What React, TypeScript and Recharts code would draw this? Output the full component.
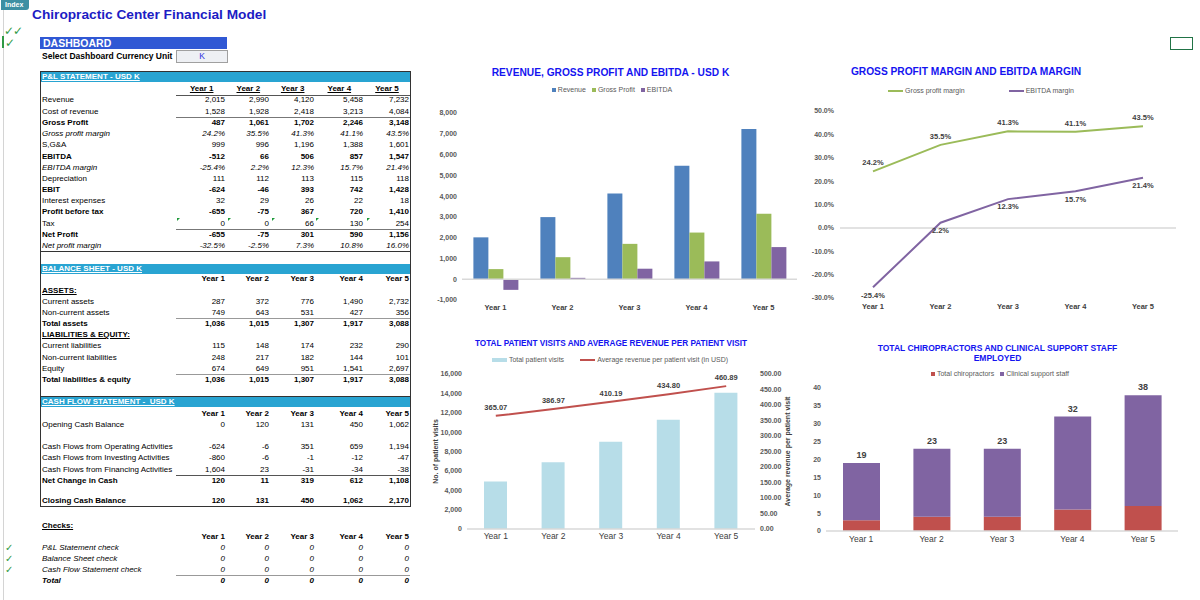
import React from 'react';
import {
  BarChart, Bar, LineChart, Line, ComposedChart, XAxis, YAxis,
  ReferenceLine, Legend, LabelList,
} from 'recharts';

const FONT = '"Liberation Sans", Arial, sans-serif';

// ---- data ----
const years = ['Year 1', 'Year 2', 'Year 3', 'Year 4', 'Year 5'];

// P&L (USD K)
const revenue = [2015, 2990, 4120, 5458, 7232];
const costOfRevenue = [1528, 1928, 2418, 3213, 4084];
const grossProfit = [487, 1061, 1702, 2246, 3148];
const grossMargin = [24.2, 35.5, 41.3, 41.1, 43.5];
const sga = [999, 996, 1196, 1388, 1601];
const ebitda = [-512, 66, 506, 857, 1547];
const ebitdaMargin = [-25.4, 2.2, 12.3, 15.7, 21.4];
const depreciation = [111, 112, 113, 115, 118];
const ebit = [-624, -46, 393, 742, 1428];
const interest = [32, 29, 26, 22, 18];
const profitBeforeTax = [-655, -75, 367, 720, 1410];
const tax = [0, 0, 66, 130, 254];
const netProfit = [-655, -75, 301, 590, 1156];
const netMargin = [-32.5, -2.5, 7.3, 10.8, 16.0];

// balance sheet
const currentAssets = [287, 372, 776, 1490, 2732];
const nonCurrentAssets = [749, 643, 531, 427, 356];
const totalAssets = [1036, 1015, 1307, 1917, 3088];
const currentLiabilities = [115, 148, 174, 232, 290];
const nonCurrentLiabilities = [248, 217, 182, 144, 101];
const equity = [674, 649, 951, 1541, 2697];
const totalLiabEquity = [1036, 1015, 1307, 1917, 3088];

// cash flow
const openingCash = [0, 120, 131, 450, 1062];
const cfOperating = [-624, -6, 351, 659, 1194];
const cfInvesting = [-860, -6, -1, -12, -47];
const cfFinancing = [1604, 23, -31, -34, -38];
const netChangeCash = [120, 11, 319, 612, 1108];
const closingCash = [120, 131, 450, 1062, 2170];

const checkZeros = [0, 0, 0, 0, 0];

// operating charts
const patientVisits = [4900, 6900, 9000, 11280, 14070];
const avgRevPerVisit = [365.07, 386.97, 410.19, 434.8, 460.89];
const chiropractors = [3, 4, 4, 6, 7];
const supportStaff = [16, 19, 19, 26, 31];
const staffTotals = [19, 23, 23, 32, 38];

const revData = years.map((y, i) => ({ year: y, revenue: revenue[i], gp: grossProfit[i], ebitda: ebitda[i] }));
const marginData = years.map((y, i) => ({ year: y, gpm: grossMargin[i], ebm: ebitdaMargin[i] }));
const visitData = years.map((y, i) => ({ year: y, visits: patientVisits[i], arpv: avgRevPerVisit[i] }));
const staffData = years.map((y, i) => ({ year: y, chiro: chiropractors[i], support: supportStaff[i], total: staffTotals[i] }));

// ---- table helpers ----
const COL_RIGHT = [225, 269, 314, 363, 409];
const PL_HEAD_X = [201.7, 248.3, 292.7, 339.3, 387];
const fmt = (v: number) => v.toLocaleString('en-US');
const pct = (v: number) => v.toFixed(1) + '%';

const base: React.CSSProperties = {
  position: 'absolute', fontFamily: FONT, fontSize: 8, lineHeight: '10px', color: '#000', whiteSpace: 'pre',
};

function TRow({ y, label, vals, bold = false, italic = false, format = fmt }: {
  y: number; label: string; vals: number[]; bold?: boolean; italic?: boolean; format?: (v: number) => string;
}) {
  const st: React.CSSProperties = { ...base, top: y - 5, fontWeight: bold ? 700 : 400, fontStyle: italic ? 'italic' : 'normal' };
  return (
    <>
      <div style={{ ...st, left: 42 }}>{label}</div>
      {vals.map((v, i) => (
        <div key={i} style={{ ...st, left: COL_RIGHT[i] - 50, width: 50, textAlign: 'right' }}>{format(v)}</div>
      ))}
    </>
  );
}

function YearHead({ y }: { y: number }) {
  return (
    <>
      {years.map((t, i) => (
        <div key={t} style={{ ...base, top: y - 5, left: COL_RIGHT[i] - 50, width: 50, textAlign: 'right', fontWeight: 700 }}>{t}</div>
      ))}
    </>
  );
}

function Label({ y, text, bold = true, underline = false }: { y: number; text: string; bold?: boolean; underline?: boolean }) {
  return <div style={{ ...base, top: y - 5, left: 42, fontWeight: bold ? 700 : 400, textDecoration: underline ? 'underline' : 'none' }}>{text}</div>;
}

function SectionBar({ y, text }: { y: number; text: string }) {
  return (
    <div style={{ position: 'absolute', left: 41, top: y, width: 369, height: 10, background: '#29a4d2' }}>
      <span style={{ ...base, left: 1, top: 0, color: '#fff', fontWeight: 700, textDecoration: 'underline' }}>{text}</span>
    </div>
  );
}

function HLine({ y, x1 = 176, x2 = 410, w = 1.5, color = '#888' }: { y: number; x1?: number; x2?: number; w?: number; color?: string }) {
  return <div style={{ position: 'absolute', left: x1, top: y, width: x2 - x1, height: 0, borderTop: `${w}px solid ${color}` }} />;
}

function Tick({ x, y, size = 12 }: { x: number; y: number; size?: number }) {
  return <div style={{ position: 'absolute', left: x, top: y, fontFamily: '"DejaVu Sans", sans-serif', fontSize: size, lineHeight: '10px', color: '#2f9a45' }}>✓</div>;
}

function Flag({ x, y }: { x: number; y: number }) {
  return <div style={{ position: 'absolute', left: x, top: y, width: 0, height: 0, borderTop: '3px solid #1e9a3a', borderRight: '3px solid transparent' }} />;
}

// ---- chart helpers ----
type LegendItem = { label: string; color: string; kind: 'square' | 'line' | 'rect' };

const legendContent = (items: LegendItem[], gap: number) => () => (
  <div style={{ display: 'flex', justifyContent: 'center', alignItems: 'center', gap, fontFamily: FONT, fontSize: 7, color: '#595959', whiteSpace: 'nowrap' }}>
    {items.map((it) => (
      <span key={it.label} style={{ display: 'flex', alignItems: 'center' }}>
        <span style={{
          display: 'inline-block', marginRight: 2, background: it.color,
          width: it.kind === 'square' ? 4 : 15, height: it.kind === 'line' ? 2 : 4,
        }} />
        {it.label}
      </span>
    ))}
  </div>
);

const yTick = { fontSize: 7, fill: '#595959', fontFamily: FONT, fontWeight: 700 };
const xTick = { fontSize: 7.5, fill: '#404040', fontFamily: FONT, fontWeight: 700 };

function Title({ x, y, text, size }: { x: number; y: number; text: string; size: number }) {
  return (
    <div style={{
      position: 'absolute', left: x - 200, width: 400, top: y - size * 0.6, textAlign: 'center', whiteSpace: 'pre-line',
      fontFamily: FONT, fontWeight: 700, fontSize: size, lineHeight: `${size * 1.2}px`, color: '#1414f0',
    }}>{text}</div>
  );
}

export default function App() {
  return (
    <div style={{ position: 'absolute', left: 0, top: 0, width: 1200, height: 600, background: '#fff', overflow: 'hidden', fontFamily: FONT }}>
      {/* sheet chrome */}
      <div style={{ position: 'absolute', left: 3, top: 10, width: 0, height: 590, borderLeft: '1px solid #d4d4d4' }} />
      <div style={{ position: 'absolute', left: 1, top: 0, width: 28, height: 10, background: '#3d8fa3', borderRadius: '0 0 3px 0' }}>
        <span style={{ ...base, left: 4, top: 0, fontSize: 7, color: '#fff', fontWeight: 700 }}>Index</span>
      </div>
      <Tick x={4} y={26} />
      <Tick x={13} y={26} />
      <div style={{ position: 'absolute', left: 2, top: 36, width: 1.5, height: 12, background: '#2f9a45' }} />
      <Tick x={5} y={38} />
      <div style={{ position: 'absolute', left: 1170, top: 37, width: 21, height: 11, border: '1.5px solid #217346' }} />

      <div style={{ position: 'absolute', left: 32, top: 7, fontFamily: FONT, fontSize: 13.7, fontWeight: 700, color: '#1c1cc4', whiteSpace: 'nowrap' }}>
        Chiropractic Center Financial Model
      </div>

      <div style={{ position: 'absolute', left: 40, top: 37, width: 187, height: 12, background: '#3058d4' }}>
        <span style={{ ...base, left: 3, top: 0, fontSize: 10.5, lineHeight: '12px', color: '#fff', fontWeight: 700 }}>DASHBOARD</span>
      </div>
      <div style={{ ...base, left: 42, top: 51, fontSize: 8.5, fontWeight: 700 }}>Select Dashboard Currency Unit</div>
      <div style={{ position: 'absolute', left: 176, top: 49.5, width: 50, height: 11, border: '1px solid #a0a0a0', background: '#eef0f4', textAlign: 'center', fontFamily: FONT, fontSize: 8.5, lineHeight: '11px', color: '#3030e0' }}>K</div>

      {/* statements box */}
      <div style={{ position: 'absolute', left: 40, top: 71, width: 369, height: 434, border: '1.5px solid #333' }} />
      <HLine y={251} x1={40} x2={411} color="#333" />
      <HLine y={395.5} x1={40} x2={411} color="#333" />

      <SectionBar y={72} text="P&L STATEMENT - USD K" />
      {years.map((t, i) => (
        <div key={t} style={{ ...base, top: 83.5, left: PL_HEAD_X[i] - 25, width: 50, textAlign: 'center', fontWeight: 700, textDecoration: 'underline' }}>{t}</div>
      ))}
      <HLine y={94.5} w={1} color="#555" />
      <TRow y={100} label="Revenue" vals={revenue} />
      <TRow y={111.5} label="Cost of revenue" vals={costOfRevenue} />
      <HLine y={116.5} color="#777" />
      <TRow y={122.7} label="Gross Profit" vals={grossProfit} bold />
      <TRow y={134} label="Gross profit margin" vals={grossMargin} italic format={pct} />
      <TRow y={145.3} label="S,G&A" vals={sga} />
      <TRow y={156.6} label="EBITDA" vals={ebitda} bold />
      <TRow y={167.8} label="EBITDA margin" vals={ebitdaMargin} italic format={pct} />
      <TRow y={179} label="Depreciation" vals={depreciation} />
      <TRow y={190} label="EBIT" vals={ebit} bold />
      <TRow y={201.2} label="Interest expenses" vals={interest} />
      <TRow y={212.3} label="Profit before tax" vals={profitBeforeTax} bold />
      <TRow y={223.5} label="Tax" vals={tax} />
      {[177, 228, 272, 316, 367].map((x) => <Flag key={x} x={x} y={217.5} />)}
      <HLine y={228.7} color="#777" />
      <TRow y={234.7} label="Net Profit" vals={netProfit} bold />
      <TRow y={245.8} label="Net profit margin" vals={netMargin} italic format={pct} />

      <SectionBar y={263.5} text="BALANCE SHEET - USD K" />
      <YearHead y={279.3} />
      <Label y={290.7} text="ASSETS:" underline />
      <TRow y={301.7} label="Current assets" vals={currentAssets} />
      <TRow y={312.8} label="Non-current assets" vals={nonCurrentAssets} />
      <HLine y={317.7} color="#999" />
      <TRow y={324} label="Total assets" vals={totalAssets} bold />
      <Label y={335} text="LIABILITIES & EQUITY:" underline />
      <TRow y={346.3} label="Current liabilities" vals={currentLiabilities} />
      <TRow y={357.6} label="Non-current liabilities" vals={nonCurrentLiabilities} />
      <TRow y={368.8} label="Equity" vals={equity} />
      <HLine y={373.8} color="#999" />
      <TRow y={379.8} label="Total liabilities & equity" vals={totalLiabEquity} bold />

      <SectionBar y={397} text="CASH FLOW STATEMENT -  USD K" />
      <YearHead y={413.7} />
      <TRow y={424.8} label="Opening Cash Balance" vals={openingCash} />
      <TRow y={447.3} label="Cash Flows from Operating Activities" vals={cfOperating} />
      <TRow y={458.4} label="Cash Flows from Investing Activities" vals={cfInvesting} />
      <TRow y={469.5} label="Cash Flows from Financing Activities" vals={cfFinancing} />
      <HLine y={474.5} w={1} color="#555" />
      <TRow y={480.6} label="Net Change in Cash" vals={netChangeCash} bold />
      <TRow y={501.2} label="Closing Cash Balance" vals={closingCash} bold />

      <Label y={526} text="Checks:" underline />
      <YearHead y={536.8} />
      <TRow y={547.8} label="P&L Statement check" vals={checkZeros} italic />
      <TRow y={559} label="Balance Sheet check" vals={checkZeros} italic />
      <TRow y={570} label="Cash Flow Statement check" vals={checkZeros} italic />
      <HLine y={575} color="#999" />
      <TRow y={581.2} label="Total" vals={checkZeros} bold italic />
      <Tick x={5} y={543} size={10} />
      <Tick x={5} y={554} size={10} />
      <Tick x={5} y={565} size={10} />

      {/* chart 1: revenue, gross profit, EBITDA */}
      <Title x={610.5} y={73} text="REVENUE, GROSS PROFIT AND EBITDA - USD K" size={10.2} />
      <div style={{ position: 'absolute', left: 430, top: 60 }}>
        <BarChart width={380} height={260} data={revData} margin={{ top: 53, right: 13, bottom: 0, left: 0 }} barGap={0} barCategoryGap="17%">
          <XAxis dataKey="year" height={20} axisLine={false} tickLine={false} tickSize={0} tickMargin={5} tick={xTick} interval={0} />
          <YAxis width={32} domain={[-1000, 8000]} ticks={[-1000, 0, 1000, 2000, 3000, 4000, 5000, 6000, 7000, 8000]}
            tickFormatter={fmt} axisLine={false} tickLine={false} tickSize={0} tickMargin={5} tick={yTick} />
          <ReferenceLine y={0} stroke="#d9d9d9" strokeWidth={1.5} />
          <Legend verticalAlign="middle" align="center" wrapperStyle={{ left: 0, top: 26, width: 364 }}
            content={legendContent([
              { label: 'Revenue', color: '#4f81bd', kind: 'square' },
              { label: 'Gross Profit', color: '#9bbb59', kind: 'square' },
              { label: 'EBITDA', color: '#8064a2', kind: 'square' },
            ], 6)} />
          <Bar dataKey="revenue" fill="#4f81bd" isAnimationActive={false} />
          <Bar dataKey="gp" fill="#9bbb59" isAnimationActive={false} />
          <Bar dataKey="ebitda" fill="#8064a2" isAnimationActive={false} />
        </BarChart>
      </div>

      {/* chart 2: margins */}
      <Title x={966} y={72} text="GROSS PROFIT MARGIN AND EBITDA MARGIN" size={10.2} />
      <div style={{ position: 'absolute', left: 800, top: 60 }}>
        <LineChart width={400} height={260} data={marginData} margin={{ top: 51, right: 24, bottom: 0, left: 0 }}>
          <XAxis dataKey="year" height={22} axisLine={false} tickLine={false} tickSize={0} tickMargin={6} tick={xTick} interval={0}
            padding={{ left: 33, right: 33 }} />
          <YAxis width={40} domain={[-30, 50]} ticks={[-30, -20, -10, 0, 10, 20, 30, 40, 50]}
            tickFormatter={(v: number) => v.toFixed(1) + '%'} axisLine={false} tickLine={false} tickSize={0} tickMargin={6} tick={yTick} />
          <ReferenceLine y={0} stroke="#d9d9d9" strokeWidth={1.5} />
          <Legend verticalAlign="middle" align="center" wrapperStyle={{ left: 0, top: 27, width: 362 }}
            content={legendContent([
              { label: 'Gross profit margin', color: '#9bbb59', kind: 'line' },
              { label: 'EBITDA margin', color: '#8064a2', kind: 'line' },
            ], 44)} />
          <Line dataKey="gpm" stroke="#9bbb59" strokeWidth={2} dot={false} isAnimationActive={false}>
            <LabelList dataKey="gpm" position="top" offset={6} formatter={(v: number) => pct(v)}
              fill="#404040" fontSize={7.5} fontWeight={700} fontFamily={FONT} />
          </Line>
          <Line dataKey="ebm" stroke="#8064a2" strokeWidth={2} dot={false} isAnimationActive={false}>
            <LabelList dataKey="ebm" position="bottom" offset={5} formatter={(v: number) => pct(v)}
              fill="#404040" fontSize={7.5} fontWeight={700} fontFamily={FONT} />
          </Line>
        </LineChart>
      </div>

      {/* chart 3: patient visits */}
      <Title x={611} y={344} text="TOTAL PATIENT VISITS AND AVERAGE REVENUE PER PATIENT VISIT" size={8.2} />
      <div style={{ position: 'absolute', left: 425, top: 330 }}>
        <ComposedChart width={375} height={225} data={visitData} margin={{ top: 44, right: 0, bottom: 0, left: 0 }}>
          <XAxis dataKey="year" height={26} axisLine={false} tickLine={false} tickSize={0} tickMargin={4}
            tick={{ ...xTick, fontSize: 8.5, fontWeight: 400 }} interval={0} />
          <YAxis yAxisId="l" width={42} domain={[0, 16000]} ticks={[0, 2000, 4000, 6000, 8000, 10000, 12000, 14000, 16000]}
            tickFormatter={fmt} axisLine={false} tickLine={false} tickSize={0} tickMargin={5} tick={yTick}
            label={{ value: 'No. of  patient visits', angle: -90, position: 'insideLeft', offset: 11, style: { textAnchor: 'middle', fontSize: 7, fontWeight: 700, fill: '#404040', fontFamily: FONT } }} />
          <YAxis yAxisId="r" orientation="right" width={45} domain={[0, 500]} ticks={[0, 50, 100, 150, 200, 250, 300, 350, 400, 450, 500]}
            tickFormatter={(v: number) => v.toFixed(2)} axisLine={false} tickLine={false} tickSize={0} tickMargin={5} tick={yTick}
            label={{ value: 'Average  revenue per patient visit', angle: -90, position: 'insideRight', offset: 12, style: { textAnchor: 'middle', fontSize: 7, fontWeight: 700, fill: '#404040', fontFamily: FONT } }} />
          <ReferenceLine yAxisId="l" y={0} stroke="#d9d9d9" strokeWidth={1.5} />
          <Legend verticalAlign="middle" align="center" wrapperStyle={{ left: 60, top: 26, width: 250 }}
            content={legendContent([
              { label: 'Total patient visits', color: '#b7dde8', kind: 'rect' },
              { label: 'Average revenue per patient visit (in USD)', color: '#c0504d', kind: 'line' },
            ], 16)} />
          <Bar yAxisId="l" dataKey="visits" fill="#b7dde8" barSize={23} isAnimationActive={false} />
          <Line yAxisId="r" dataKey="arpv" stroke="#c0504d" strokeWidth={2} dot={false} isAnimationActive={false}>
            <LabelList dataKey="arpv" position="top" offset={6} formatter={(v: number) => v.toFixed(2)}
              fill="#404040" fontSize={7.5} fontWeight={700} fontFamily={FONT} />
          </Line>
        </ComposedChart>
      </div>

      {/* chart 4: staff */}
      <Title x={997.5} y={348} text={'TOTAL CHIROPRACTORS AND CLINICAL SUPPORT STAFF\nEMPLOYED'} size={8.5} />
      <div style={{ position: 'absolute', left: 800, top: 330 }}>
        <BarChart width={400} height={225} data={staffData} margin={{ top: 58, right: 22, bottom: 0, left: 0 }}>
          <XAxis dataKey="year" height={24} axisLine={false} tickLine={false} tickSize={0} tickMargin={5}
            tick={{ ...xTick, fontSize: 8.5, fontWeight: 400 }} interval={0} />
          <YAxis width={26} domain={[0, 40]} ticks={[0, 5, 10, 15, 20, 25, 30, 35, 40]}
            axisLine={false} tickLine={false} tickSize={0} tickMargin={5} tick={yTick} />
          <ReferenceLine y={0} stroke="#d9d9d9" strokeWidth={1.5} />
          <Legend verticalAlign="middle" align="center" wrapperStyle={{ left: 0, top: 40, width: 400 }}
            content={legendContent([
              { label: 'Total chiropractors', color: '#c0504d', kind: 'square' },
              { label: 'Clinical support staff', color: '#8064a2', kind: 'square' },
            ], 6)} />
          <Bar dataKey="chiro" stackId="s" fill="#c0504d" barSize={37} isAnimationActive={false} />
          <Bar dataKey="support" stackId="s" fill="#8064a2" barSize={37} isAnimationActive={false}>
            <LabelList dataKey="total" position="top" offset={5} fill="#404040" fontSize={9} fontWeight={700} fontFamily={FONT} />
          </Bar>
        </BarChart>
      </div>
    </div>
  );
}
